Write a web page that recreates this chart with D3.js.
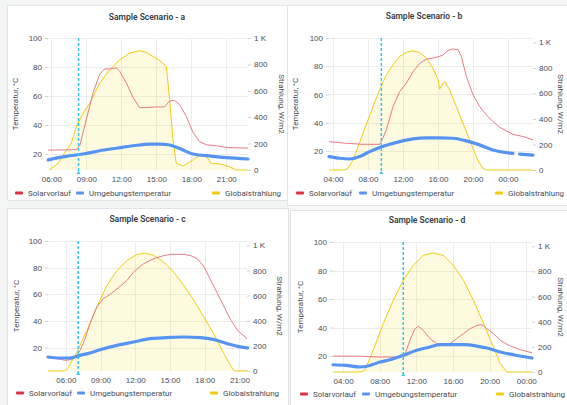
<!DOCTYPE html>
<html>
<head>
<meta charset="utf-8">
<script src="https://cdn.jsdelivr.net/npm/d3@7"></script>
<style>
  body { margin: 0; background: #f4f5f5; }
  svg { display: block; font-family: Roboto, "Noto Sans", sans-serif; }
</style>
</head>
<body>
<svg id="chart" width="567" height="405"></svg>
<script>
// --- data (hours since midnight) ---
const seriesNames = ["Solarvorlauf", "Umgebungstemperatur", "Globalstrahlung"];
const tempTicks = [20, 40, 60, 80, 100];
const radTicks = [0, 200, 400, 600, 800, 1000];

const solarA = [[5.71,22.7],[8.14,23],[8.43,25.7],[9.0,44],[9.57,62],[10.14,75],[10.57,78.7],[11.0,78.7],[11.57,79.4],[11.86,77],[12.43,69],[13.0,59],[13.57,52],[14.14,52],[15.0,52.5],[15.71,52.5],[16.14,56.6],[16.57,57],[17.0,54],[17.57,46],[18.14,35],[18.71,28.5],[19.29,26.4],[20.14,25.7],[21.0,24.6],[21.57,24.3],[22.86,24.1]];
const ambientA = [[5.71,16],[7.29,18.4],[8.71,20],[10.14,22.3],[11.57,24],[13.0,25.7],[14.43,26.9],[15.29,26.9],[16.14,26.2],[17.0,23.9],[18.14,20],[19.29,18.9],[21.0,17.5],[22.86,16.6]];
const radiationA = [[5.8,0],[6.57,50],[7.29,152],[7.71,203],[8.14,329],[8.71,430],[9.29,506],[10.14,658],[11.0,760],[11.86,835],[12.71,886],[13.57,904],[14.14,891],[14.71,861],[15.29,830],[15.86,785],[16.14,532],[16.43,228],[16.71,51],[17.29,30],[18.14,76],[18.71,109],[19.29,101],[19.71,51],[20.43,46],[21.29,25],[21.86,0],[22.86,0]];

const solarB = [[3.54,26.6],[5.52,25.4],[7.43,24.7],[9.33,24.7],[9.52,26.6],[10.1,34.9],[10.86,51.5],[11.62,62],[12.38,68],[13.14,76],[13.9,82],[14.67,85],[15.43,85.8],[16.19,87],[16.57,88],[17.14,91.2],[17.71,92.2],[18.29,91.7],[18.67,87],[19.24,72.8],[20.0,59.8],[20.76,51.5],[21.52,45.6],[22.29,40.8],[23.05,36.8],[23.81,34.2],[24.57,31.8],[25.71,30.2],[26.86,27.8]];
const ambientB = [[3.54,16],[4.76,14.8],[5.9,14.3],[7.05,16],[8.19,19.5],[9.33,22.4],[10.48,24.7],[11.62,26.6],[13.14,28.5],[14.67,29.2],[16.19,29.2],[17.71,29],[19.24,27.1],[20.76,24.3],[22.29,20.7],[23.81,18.8],[24.57,18.3],[24.9,null],[25.33,17.8],[26.86,17.1]];
const radiationB = [[3.54,0],[5.33,0],[5.71,13],[6.29,78],[7.43,288],[8.57,497],[9.33,628],[10.1,746],[10.86,825],[11.62,890],[12.38,921],[13.14,934],[13.9,921],[14.67,877],[15.43,798],[16.0,707],[16.19,633],[16.57,680],[16.76,694],[17.33,628],[18.1,497],[18.86,366],[19.62,236],[20.38,105],[20.76,52],[21.14,13],[21.52,0],[26.86,0]];

const solarC = [[4.46,12.5],[5.48,11.5],[5.91,10.5],[6.49,11],[7.07,15.5],[7.51,23],[8.09,38],[8.67,50.5],[9.25,56.75],[9.83,60],[10.41,64],[11.28,70.5],[11.86,76.75],[12.72,83],[13.59,86.75],[14.46,89],[15.04,90],[16.2,90],[16.78,89],[17.36,86.75],[17.94,80.5],[18.52,70.5],[19.1,60.5],[19.68,50.5],[20.26,40.5],[20.84,33],[21.65,26.75]];
const ambientC = [[4.46,13],[5.48,12.25],[6.35,12.25],[7.22,14.25],[8.09,16],[8.96,18.5],[10.41,21.75],[11.86,24.25],[13.3,26.75],[14.75,27.5],[16.2,28],[17.65,27.5],[18.81,26],[19.97,23],[20.84,21],[21.71,19.75]];
const radiationC = [[4.46,0],[5.91,0],[6.2,27],[6.93,147],[7.8,320],[8.67,507],[9.54,680],[10.41,800],[11.28,880],[12.14,928],[12.87,939],[13.59,920],[14.46,867],[15.33,787],[16.2,680],[17.07,560],[17.94,427],[18.81,293],[19.68,133],[20.26,40],[20.55,0],[21.71,0]];

const solarD = [[2.9,20],[6.19,19.8],[8.01,19.3],[10.2,19.3],[10.75,21.2],[11.3,31],[11.85,39.2],[12.21,40.8],[12.76,38],[13.49,32.2],[14.22,28.7],[14.95,28.2],[15.68,28.7],[16.41,32.2],[17.14,35.7],[17.87,39.2],[18.6,41.5],[19.15,42],[19.69,39.2],[20.42,35.7],[21.15,31],[22.25,27],[23.34,24.4],[24.62,22.3]];
const ambientD = [[2.9,13.9],[4.36,13.4],[5.82,12.3],[6.92,13.4],[8.01,15.8],[9.11,17.4],[10.57,20.5],[12.03,24],[13.49,26.3],[14.58,28],[15.68,28],[17.14,28],[18.6,27],[19.69,25.6],[21.15,22.8],[22.61,20.9],[24.62,18.6]];
const radiationD = [[2.9,0],[5.82,0],[6.37,13],[7.28,172],[8.38,385],[9.47,570],[10.57,729],[11.66,849],[12.76,928],[13.85,947],[14.95,928],[16.04,849],[17.14,729],[18.23,570],[19.33,385],[20.42,199],[21.15,66],[21.88,0],[24.62,0]];

const titles = ["Sample Scenario - a", "Sample Scenario - b", "Sample Scenario - c", "Sample Scenario - d"];
const hourTicks = [[6,9,12,15,18,21],[4,8,12,16,20,24],[6,9,12,15,18,21],[4,8,12,16,20,24]];
const markerHours = [8.33, 9.52, 7.07, 10.57];
const tempMins = [9, 6.5, 2.5, 8.8];
const radMaxes = [1000, 1034, 1035, 1034];

// --- layout per panel ---
const layouts = [
  { box:[7,5,280,195],   plot:[48,248,38,170],  titleY:17,  legendY:193, leftX:15,  rightX:282, legendX:[15,76,212] },
  { box:[287,5,290,200], plot:[329,533,38,170], titleY:16,  legendY:193, leftX:295, rightX:561, legendX:[296,359,495] },
  { box:[7,208,281,205], plot:[48,247,241,371], titleY:219, legendY:393, leftX:16,  rightX:280, legendX:[16,77,210] },
  { box:[290,210,290,200], plot:[333,532,242,372], titleY:220, legendY:394, leftX:300, rightX:561, legendX:[300,362,496] }
];

const colors = { solar: "#ea7a84", ambient: "#5794f2", radiation: "#f2cc0c", marker: "#33c6f2" };
const legendColors = ["#e02f44", "#5794f2", "#f2cc0c"];
const textColor = "#464c54";

const panels = [
  { solar: solarA, ambient: ambientA, radiation: radiationA },
  { solar: solarB, ambient: ambientB, radiation: radiationB },
  { solar: solarC, ambient: ambientC, radiation: radiationC },
  { solar: solarD, ambient: ambientD, radiation: radiationD }
];

const svg = d3.select("#chart");
const fmtHour = h => d3.format("02d")(h % 24) + ":00";

function drawPanel(i) {
  const p = panels[i], L = layouts[i];
  const [l, r, t, b] = L.plot;
  const g = svg.append("g");

  g.append("rect")
    .attr("x", L.box[0] + 0.5).attr("y", L.box[1] + 0.5)
    .attr("width", L.box[2]).attr("height", L.box[3])
    .attr("fill", "#fff").attr("stroke", "#e1e3e6");

  const x = d3.scaleLinear().domain(d3.extent(p.solar, d => d[0])).range([l, r]);
  const y = d3.scaleLinear().domain([tempMins[i], 100]).range([b, t]);
  const yR = d3.scaleLinear().domain([0, radMaxes[i]]).range([b, t]);

  // grid
  g.append("g").selectAll("line").data(tempTicks).join("line")
    .attr("x1", l).attr("x2", r)
    .attr("y1", d => Math.round(y(d)) + 0.5).attr("y2", d => Math.round(y(d)) + 0.5)
    .attr("stroke", "#ececec");
  g.append("g").selectAll("line").data(hourTicks[i]).join("line")
    .attr("x1", d => Math.round(x(d)) + 0.5).attr("x2", d => Math.round(x(d)) + 0.5)
    .attr("y1", t).attr("y2", b)
    .attr("stroke", "#ececec");

  // axes
  const styleAxis = sel => {
    sel.select(".domain").remove();
    sel.selectAll(".tick line").attr("stroke", "#cfd2d6");
    sel.selectAll(".tick text").attr("fill", textColor).style("font-size", "8px");
  };
  g.append("g").attr("transform", `translate(${l},0)`)
    .call(d3.axisLeft(y).tickValues(tempTicks).tickSize(3).tickPadding(3))
    .call(styleAxis);
  g.append("g").attr("transform", `translate(${r},0)`)
    .call(d3.axisRight(yR).tickValues(radTicks).tickSize(3).tickPadding(3)
      .tickFormat(d => d >= 1000 ? "1 K" : d))
    .call(styleAxis);
  g.append("g").attr("transform", `translate(0,${b})`)
    .call(d3.axisBottom(x).tickValues(hourTicks[i]).tickSize(0).tickPadding(6).tickFormat(fmtHour))
    .call(styleAxis);

  // series
  g.append("path").datum(p.radiation)
    .attr("d", d3.area().x(d => x(d[0])).y0(yR(0)).y1(d => yR(d[1])))
    .attr("fill", "rgba(250,222,42,0.15)");
  g.append("path").datum(p.radiation)
    .attr("d", d3.line().x(d => x(d[0])).y(d => yR(d[1])))
    .attr("fill", "none").attr("stroke", colors.radiation).attr("stroke-width", 1);
  g.append("path").datum(p.solar)
    .attr("d", d3.line().x(d => x(d[0])).y(d => y(d[1])))
    .attr("fill", "none").attr("stroke", colors.solar).attr("stroke-width", 1);
  g.append("path").datum(p.ambient)
    .attr("d", d3.line().defined(d => d[1] != null).x(d => x(d[0])).y(d => y(d[1])).curve(d3.curveMonotoneX))
    .attr("fill", "none").attr("stroke", colors.ambient).attr("stroke-width", 3.2)
    .attr("stroke-linecap", "round");

  // annotation marker
  const mx = x(markerHours[i]);
  g.append("line")
    .attr("x1", mx).attr("x2", mx).attr("y1", t).attr("y2", b + 2)
    .attr("stroke", colors.marker).attr("stroke-width", 1.5).attr("stroke-dasharray", "3,2");
  g.append("path")
    .attr("d", `M${mx - 2},${b + 4}L${mx + 2},${b + 4}L${mx},${b + 1}Z`)
    .attr("fill", colors.marker);

  // title and axis labels
  g.append("text").attr("x", (L.box[0] + Math.min(L.box[0] + L.box[2], 567 + 20)) / 2 - (i % 2 ? 8 : 0))
    .attr("y", L.titleY).attr("dy", "0.35em").attr("text-anchor", "middle")
    .attr("fill", "#333a42").style("font-size", "8.5px").style("font-weight", 600)
    .text(titles[i]);
  const midY = (t + b) / 2;
  g.append("text").attr("transform", `translate(${L.leftX},${midY}) rotate(-90)`)
    .attr("text-anchor", "middle").attr("dy", "0.35em")
    .attr("fill", textColor).style("font-size", "8px").text("Temperatur, °C");
  g.append("text").attr("transform", `translate(${L.rightX},${midY}) rotate(90)`)
    .attr("text-anchor", "middle").attr("dy", "0.35em")
    .attr("fill", textColor).style("font-size", "8px").text("Strahlung, W/m2");

  // legend
  seriesNames.forEach((name, k) => {
    const lx = L.legendX[k];
    g.append("rect").attr("x", lx).attr("y", L.legendY - 1.5)
      .attr("width", 8).attr("height", 3).attr("rx", 1).attr("fill", legendColors[k]);
    g.append("text").attr("x", lx + 13).attr("y", L.legendY).attr("dy", "0.35em")
      .attr("fill", textColor).style("font-size", "8px").text(name);
  });
}

panels.forEach((p, i) => drawPanel(i));
</script>
</body>
</html>
